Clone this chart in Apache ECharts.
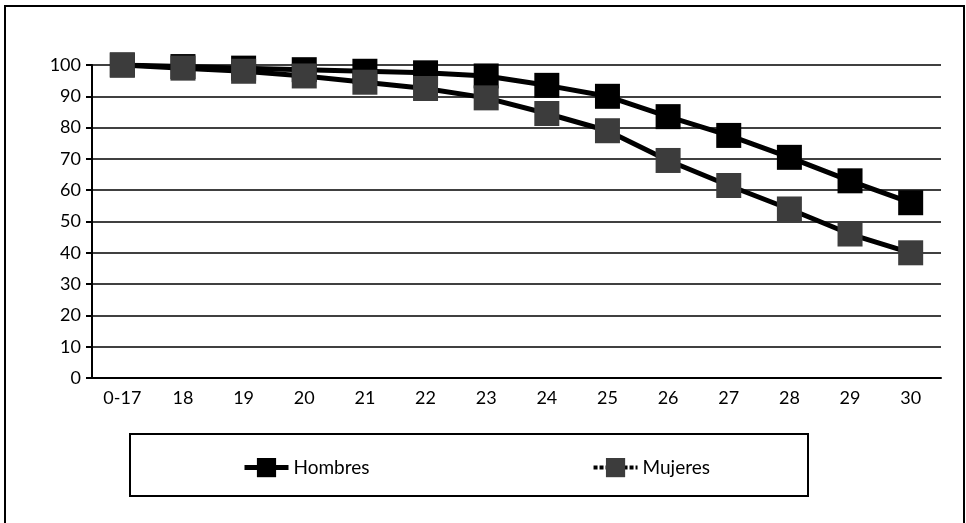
<!DOCTYPE html>
<html>
<head>
<meta charset="utf-8">
<script src="https://cdn.jsdelivr.net/npm/echarts@6/dist/echarts.min.js"></script>
<style>
  html, body { margin: 0; padding: 0; background: #fff; }
  #chart { width: 966px; height: 523px; }
</style>
</head>
<body>
<div id="chart"></div>
<script>
const categories = ['0-17', '18', '19', '20', '21', '22', '23', '24', '25', '26', '27', '28', '29', '30'];
const hombres = [100, 99.5, 99, 98.5, 98, 97.5, 96.5, 93.5, 90, 83.5, 77.5, 70.5, 63, 56];
const mujeres = [100, 99, 98, 96.5, 94.5, 92.5, 89.5, 84.5, 79, 69.5, 61.5, 54, 46, 40];

const font = 'Lato';
const chart = echarts.init(document.getElementById('chart'));

chart.setOption({
  animation: false,
  backgroundColor: '#fff',
  textStyle: { fontFamily: font, color: '#000' },
  graphic: [
    {
      type: 'rect',
      shape: { x: 5, y: 6, width: 959, height: 530 },
      style: { fill: 'none', stroke: '#000', lineWidth: 2 }
    },
    {
      type: 'rect',
      shape: { x: 130, y: 434, width: 678, height: 62 },
      style: { fill: 'none', stroke: '#000', lineWidth: 2 }
    }
  ],
  grid: { left: 92, right: 25, top: 65, bottom: 145 },
  legend: {
    left: 237,
    top: 453,
    itemGap: 222,
    itemWidth: 44,
    itemHeight: 24,
    textStyle: { fontFamily: font, fontSize: 19, color: '#000' },
    data: [
      { name: 'Hombres', lineStyle: { width: 5 } },
      { name: 'Mujeres', lineStyle: { width: 4, type: [4, 2] } }
    ]
  },
  xAxis: {
    type: 'category',
    data: categories,
    axisLine: { lineStyle: { color: '#000', width: 2 } },
    axisTick: { length: 6, lineStyle: { color: '#000', width: 2 } },
    axisLabel: { color: '#000', fontSize: 18, margin: 11, fontFamily: font }
  },
  yAxis: {
    type: 'value',
    min: 0,
    max: 100,
    interval: 10,
    axisLine: { show: true, lineStyle: { color: '#000', width: 2 } },
    axisTick: { show: true, length: 6, lineStyle: { color: '#000', width: 2 } },
    axisLabel: { color: '#000', fontSize: 18, margin: 11, fontFamily: font },
    splitLine: { lineStyle: { color: '#000', width: 1.5 } }
  },
  series: [
    {
      name: 'Hombres',
      type: 'line',
      data: hombres,
      symbol: 'rect',
      symbolSize: 25,
      itemStyle: { color: '#000' },
      lineStyle: { color: '#000', width: 5 }
    },
    {
      name: 'Mujeres',
      type: 'line',
      data: mujeres,
      symbol: 'rect',
      symbolSize: 25,
      itemStyle: { color: '#3c3c3c' },
      lineStyle: { color: '#000', width: 5 }
    }
  ]
});
</script>
</body>
</html>
